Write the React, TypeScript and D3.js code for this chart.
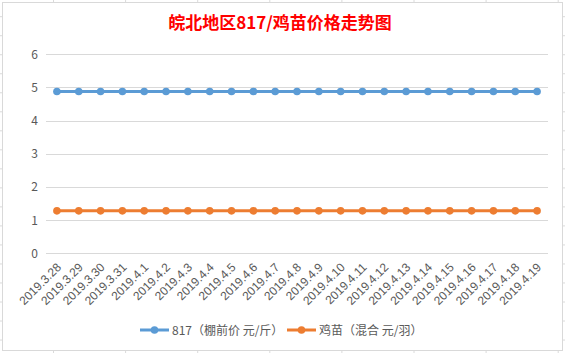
import React from "react";
import * as d3 from "d3";

const categories = [
  "2019.3.28", "2019.3.29", "2019.3.30", "2019.3.31",
  "2019.4.1", "2019.4.2", "2019.4.3", "2019.4.4", "2019.4.5", "2019.4.6",
  "2019.4.7", "2019.4.8", "2019.4.9", "2019.4.10", "2019.4.11", "2019.4.12",
  "2019.4.13", "2019.4.14", "2019.4.15", "2019.4.16", "2019.4.17", "2019.4.18", "2019.4.19",
];
const series817 = [4.88, 4.88, 4.88, 4.88, 4.88, 4.88, 4.88, 4.88, 4.88, 4.88, 4.88, 4.88, 4.88, 4.88, 4.88, 4.88, 4.88, 4.88, 4.88, 4.88, 4.88, 4.88, 4.88];
const seriesChick = [1.28, 1.28, 1.28, 1.28, 1.28, 1.28, 1.28, 1.28, 1.28, 1.28, 1.28, 1.28, 1.28, 1.28, 1.28, 1.28, 1.28, 1.28, 1.28, 1.28, 1.28, 1.28, 1.28];
const yTicks = [0, 1, 2, 3, 4, 5, 6];
const seriesNames = ["817（棚前价 元/斤）", "鸡苗（混合 元/羽）"];
const colors = ["#5B9BD5", "#ED7D31"];

const W = 565, H = 353;
const FONT = "'Noto Sans CJK SC', 'Microsoft YaHei', sans-serif";

export default function App() {
  const x = d3.scaleBand<string>().domain(categories).range([46, 548]);
  const y = d3.scaleLinear().domain([0, 6]).range([253.3, 54.3]);
  const line = d3.line<number>()
    .x((_, i) => (x(categories[i]) as number) + x.bandwidth() / 2)
    .y((d) => y(d));

  const colLines = d3.range(0, 8).map((k) => 53.5 + k * 72.1);
  const rowLines = d3.range(0, 19).map((k) => 16.7 + k * 19.02);
  const allSeries = [series817, seriesChick];

  return (
    <svg width={W} height={H} style={{ position: "absolute", left: 0, top: 0, display: "block" }}
      fontFamily={FONT}>
      <rect width={W} height={H} fill="#fff" />
      {colLines.map((c, i) => (
        <line key={"c" + i} x1={c} x2={c} y1={0} y2={H} stroke="#dadada" strokeWidth={1} />
      ))}
      {rowLines.map((r, i) => (
        <line key={"r" + i} x1={0} x2={W} y1={r} y2={r} stroke="#dadada" strokeWidth={1} />
      ))}
      <rect x={2.5} y={2.5} width={560} height={348} fill="#fff" stroke="#d9d9d9" strokeWidth={1} />
      <text x={280} y={29} textAnchor="middle" fill="#FF0000" fontSize={17} fontWeight="bold">
        皖北地区817/鸡苗价格走势图
      </text>
      {yTicks.map((t) => (
        <g key={t}>
          <line x1={46} x2={548} y1={Math.round(y(t)) + 0.5} y2={Math.round(y(t)) + 0.5} stroke="#d9d9d9" strokeWidth={1} />
          <text x={38} y={y(t) + 4.5} textAnchor="end" fill="#595959" fontSize={12}>{t}</text>
        </g>
      ))}
      {categories.map((c) => {
        const cx = (x(c) as number) + x.bandwidth() / 2;
        return (
          <text key={c} transform={`translate(${cx + 5},${268}) rotate(-45)`} textAnchor="end"
            fill="#595959" fontSize={12} fontFamily="'Liberation Sans', sans-serif">{c}</text>
        );
      })}
      {allSeries.map((s, si) => (
        <g key={si}>
          <path d={line(s) || ""} fill="none" stroke={colors[si]} strokeWidth={3} />
          {s.map((v, i) => (
            <circle key={i} cx={(x(categories[i]) as number) + x.bandwidth() / 2} cy={y(v)} r={3.8} fill={colors[si]} />
          ))}
        </g>
      ))}
      {[0, 1].map((i) => {
        const lx = i === 0 ? 140 : 287;
        return (
          <g key={i}>
            <line x1={lx} x2={lx + 29} y1={330} y2={330} stroke={colors[i]} strokeWidth={3} />
            <circle cx={lx + 14.5} cy={330} r={3.8} fill={colors[i]} />
            <text x={lx + 32} y={334.5} fill="#595959" fontSize={12}>{seriesNames[i]}</text>
          </g>
        );
      })}
    </svg>
  );
}
